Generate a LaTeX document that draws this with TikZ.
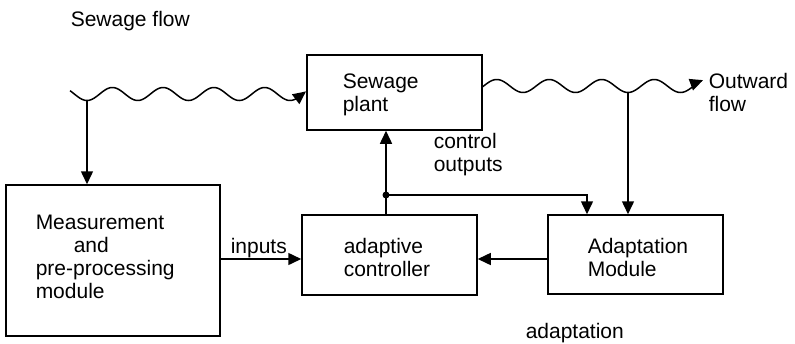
\documentclass[tikz,border=0pt]{standalone}
\usepackage{fontspec}
\setmainfont{Liberation Sans}
\usetikzlibrary{arrows.meta}
\begin{document}
\begin{tikzpicture}[x=1pt,y=-1pt,
  line width=1.5pt,
  arr/.style={-{Triangle[length=13pt,width=12pt]}},
  box/.style={draw,line width=1.5pt,inner sep=0pt},
  txt/.style={anchor=base west,inner sep=0pt,font=\fontsize{21}{23}\selectfont}]
\useasboundingbox (0,0) rectangle (795,343);
% boxes
\node[box,minimum width=175pt,minimum height=75pt] (plant) at (394.5,92.5) {};
\node[box,minimum width=214pt,minimum height=151pt] (meas) at (113,260.5) {};
\node[box,minimum width=175pt,minimum height=80pt] (ctrl) at (389.5,255) {};
\node[box,minimum width=175pt,minimum height=79pt] (adapt) at (635.5,254.5) {};
% texts
\node[txt] (tflow) at (70,26) {Sewage flow};
\node[txt] (tpl1) at (342,88) {Sewage};
\node[txt] (tpl2) at (342,111) {plant};
\node[txt] (tco1) at (433,148) {control};
\node[txt] (tco2) at (433,171) {outputs};
\node[txt] (tout1) at (708,88) {Outward};
\node[txt] (tout2) at (708,111) {flow};
\node[txt] (tm1) at (35,229) {Measurement};
\node[txt] (tm2) at (73,252) {and};
\node[txt] (tm3) at (35,275) {pre-processing};
\node[txt] (tm4) at (35,298) {module};
\node[txt] (tin) at (230,253) {inputs};
\node[txt] (tc1) at (343,253) {adaptive};
\node[txt] (tc2) at (343,276) {controller};
\node[txt] (ta1) at (587,253) {Adaptation};
\node[txt] (ta2) at (587,276) {Module};
\node[txt] (tad) at (525,338) {adaptation};
% wavy flows
\draw[arr] plot[domain=70:306,samples=160,smooth] (\x,{94+6.5*cos(((\x-87)/50.75)*360)});
\draw[arr] plot[domain=482:703,samples=160,smooth] (\x,{86+6.5*cos(((\x-628)/52.5)*360)});
\coordinate (jin) at (87,100.5);
\coordinate (jout) at (628,92.5);
\coordinate (dot) at (386,195);
\coordinate (split) at (587,195);
% connectors
\draw[arr] (jin) -- (meas.north -| jin);
\draw[arr] (jout) -- (adapt.north -| jout);
\draw[arr] (ctrl.north -| dot) -- (plant.south -| dot);
\draw[arr] (dot) -- (split) -- (adapt.north -| split);
\fill (dot) circle (3.5pt);
\draw[arr] (meas.east |- 0,259) -- (ctrl.west |- 0,259);
\draw[arr] (adapt.west |- 0,259) -- (ctrl.east |- 0,259);
\end{tikzpicture}
\end{document}
